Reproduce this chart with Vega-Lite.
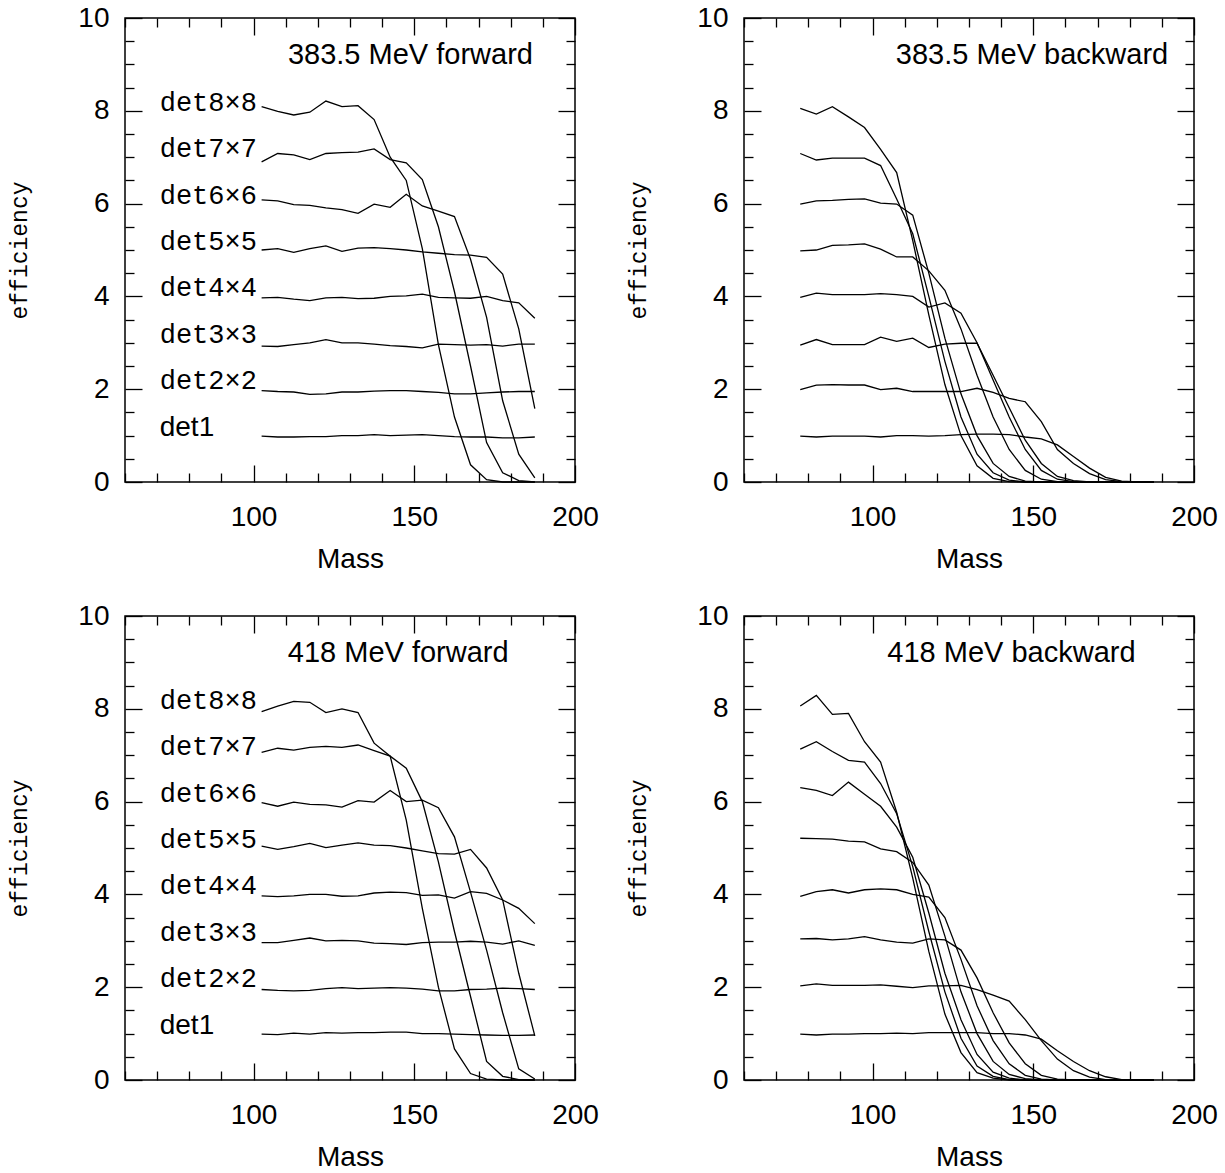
{
  "$schema": "https://vega.github.io/schema/vega-lite/v6.json",
  "background": "white",
  "padding": {"left": 8, "top": 3, "right": 5, "bottom": 2},
  "config": {
    "view": {"stroke": "black", "strokeWidth": 1.5},
    "axis": {"domain": false, "grid": false, "tickColor": "black", "tickWidth": 1.3, "labelFont": "Liberation Sans", "labelFontSize": 28, "labelColor": "black", "labelFlush": false, "labelOverlap": false, "labelBound": false, "titleFont": "Liberation Sans", "titleFontSize": 28, "titleFontWeight": "normal", "titleColor": "black"},
    "text": {"color": "black"}
  },
  "datasets": {
    "f383": [
      {"det":8,"mass":102.5,"eff":8.09},{"det":8,"mass":107.5,"eff":7.99},{"det":8,"mass":112.5,"eff":7.91},{"det":8,"mass":117.5,"eff":7.97},{"det":8,"mass":122.5,"eff":8.21},{"det":8,"mass":127.5,"eff":8.09},{"det":8,"mass":132.5,"eff":8.11},{"det":8,"mass":137.5,"eff":7.81},{"det":8,"mass":142.5,"eff":7.0},{"det":8,"mass":147.5,"eff":6.5},{"det":8,"mass":152.5,"eff":5.03},{"det":8,"mass":157.5,"eff":2.96},{"det":8,"mass":162.5,"eff":1.4},{"det":8,"mass":167.5,"eff":0.37},{"det":8,"mass":172.5,"eff":0.05},{"det":8,"mass":177.5,"eff":0},{"det":8,"mass":182.5,"eff":0},{"det":8,"mass":187.5,"eff":0},
      {"det":7,"mass":102.5,"eff":6.9},{"det":7,"mass":107.5,"eff":7.08},{"det":7,"mass":112.5,"eff":7.05},{"det":7,"mass":117.5,"eff":6.95},{"det":7,"mass":122.5,"eff":7.08},{"det":7,"mass":127.5,"eff":7.1},{"det":7,"mass":132.5,"eff":7.11},{"det":7,"mass":137.5,"eff":7.18},{"det":7,"mass":142.5,"eff":6.95},{"det":7,"mass":147.5,"eff":6.88},{"det":7,"mass":152.5,"eff":6.52},{"det":7,"mass":157.5,"eff":5.5},{"det":7,"mass":162.5,"eff":4.1},{"det":7,"mass":167.5,"eff":2.5},{"det":7,"mass":172.5,"eff":0.85},{"det":7,"mass":177.5,"eff":0.2},{"det":7,"mass":182.5,"eff":0.03},{"det":7,"mass":187.5,"eff":0},
      {"det":6,"mass":102.5,"eff":6.08},{"det":6,"mass":107.5,"eff":6.06},{"det":6,"mass":112.5,"eff":5.98},{"det":6,"mass":117.5,"eff":5.96},{"det":6,"mass":122.5,"eff":5.91},{"det":6,"mass":127.5,"eff":5.87},{"det":6,"mass":132.5,"eff":5.79},{"det":6,"mass":137.5,"eff":5.99},{"det":6,"mass":142.5,"eff":5.92},{"det":6,"mass":147.5,"eff":6.2},{"det":6,"mass":152.5,"eff":5.95},{"det":6,"mass":157.5,"eff":5.84},{"det":6,"mass":162.5,"eff":5.72},{"det":6,"mass":167.5,"eff":4.8},{"det":6,"mass":172.5,"eff":3.55},{"det":6,"mass":177.5,"eff":1.75},{"det":6,"mass":182.5,"eff":0.6},{"det":6,"mass":187.5,"eff":0.09},
      {"det":5,"mass":102.5,"eff":5.0},{"det":5,"mass":107.5,"eff":5.03},{"det":5,"mass":112.5,"eff":4.95},{"det":5,"mass":117.5,"eff":5.03},{"det":5,"mass":122.5,"eff":5.09},{"det":5,"mass":127.5,"eff":4.97},{"det":5,"mass":132.5,"eff":5.04},{"det":5,"mass":137.5,"eff":5.05},{"det":5,"mass":142.5,"eff":5.03},{"det":5,"mass":147.5,"eff":5.0},{"det":5,"mass":152.5,"eff":4.96},{"det":5,"mass":157.5,"eff":4.93},{"det":5,"mass":162.5,"eff":4.9},{"det":5,"mass":167.5,"eff":4.89},{"det":5,"mass":172.5,"eff":4.84},{"det":5,"mass":177.5,"eff":4.48},{"det":5,"mass":182.5,"eff":3.3},{"det":5,"mass":187.5,"eff":1.58},
      {"det":4,"mass":102.5,"eff":3.97},{"det":4,"mass":107.5,"eff":3.98},{"det":4,"mass":112.5,"eff":3.94},{"det":4,"mass":117.5,"eff":3.91},{"det":4,"mass":122.5,"eff":3.97},{"det":4,"mass":127.5,"eff":3.98},{"det":4,"mass":132.5,"eff":3.95},{"det":4,"mass":137.5,"eff":3.96},{"det":4,"mass":142.5,"eff":4.0},{"det":4,"mass":147.5,"eff":4.01},{"det":4,"mass":152.5,"eff":4.05},{"det":4,"mass":157.5,"eff":3.98},{"det":4,"mass":162.5,"eff":3.97},{"det":4,"mass":167.5,"eff":3.96},{"det":4,"mass":172.5,"eff":4.0},{"det":4,"mass":177.5,"eff":3.91},{"det":4,"mass":182.5,"eff":3.86},{"det":4,"mass":187.5,"eff":3.53},
      {"det":3,"mass":102.5,"eff":2.93},{"det":3,"mass":107.5,"eff":2.92},{"det":3,"mass":112.5,"eff":2.96},{"det":3,"mass":117.5,"eff":3.0},{"det":3,"mass":122.5,"eff":3.07},{"det":3,"mass":127.5,"eff":3.0},{"det":3,"mass":132.5,"eff":3.0},{"det":3,"mass":137.5,"eff":2.97},{"det":3,"mass":142.5,"eff":2.94},{"det":3,"mass":147.5,"eff":2.92},{"det":3,"mass":152.5,"eff":2.89},{"det":3,"mass":157.5,"eff":2.97},{"det":3,"mass":162.5,"eff":2.96},{"det":3,"mass":167.5,"eff":2.95},{"det":3,"mass":172.5,"eff":2.96},{"det":3,"mass":177.5,"eff":2.93},{"det":3,"mass":182.5,"eff":2.97},{"det":3,"mass":187.5,"eff":2.97},
      {"det":2,"mass":102.5,"eff":1.97},{"det":2,"mass":107.5,"eff":1.95},{"det":2,"mass":112.5,"eff":1.94},{"det":2,"mass":117.5,"eff":1.89},{"det":2,"mass":122.5,"eff":1.9},{"det":2,"mass":127.5,"eff":1.94},{"det":2,"mass":132.5,"eff":1.94},{"det":2,"mass":137.5,"eff":1.96},{"det":2,"mass":142.5,"eff":1.97},{"det":2,"mass":147.5,"eff":1.97},{"det":2,"mass":152.5,"eff":1.95},{"det":2,"mass":157.5,"eff":1.93},{"det":2,"mass":162.5,"eff":1.9},{"det":2,"mass":167.5,"eff":1.9},{"det":2,"mass":172.5,"eff":1.92},{"det":2,"mass":177.5,"eff":1.94},{"det":2,"mass":182.5,"eff":1.95},{"det":2,"mass":187.5,"eff":1.95},
      {"det":1,"mass":102.5,"eff":0.99},{"det":1,"mass":107.5,"eff":0.97},{"det":1,"mass":112.5,"eff":0.97},{"det":1,"mass":117.5,"eff":0.98},{"det":1,"mass":122.5,"eff":0.98},{"det":1,"mass":127.5,"eff":1.0},{"det":1,"mass":132.5,"eff":1.0},{"det":1,"mass":137.5,"eff":1.02},{"det":1,"mass":142.5,"eff":1.0},{"det":1,"mass":147.5,"eff":1.01},{"det":1,"mass":152.5,"eff":1.02},{"det":1,"mass":157.5,"eff":1.0},{"det":1,"mass":162.5,"eff":0.98},{"det":1,"mass":167.5,"eff":0.97},{"det":1,"mass":172.5,"eff":0.97},{"det":1,"mass":177.5,"eff":0.95},{"det":1,"mass":182.5,"eff":0.95},{"det":1,"mass":187.5,"eff":0.97}
    ],
    "b383": [
      {"det":8,"mass":77.5,"eff":8.05},{"det":8,"mass":82.5,"eff":7.93},{"det":8,"mass":87.5,"eff":8.09},{"det":8,"mass":92.5,"eff":7.87},{"det":8,"mass":97.5,"eff":7.64},{"det":8,"mass":102.5,"eff":7.17},{"det":8,"mass":107.5,"eff":6.67},{"det":8,"mass":112.5,"eff":5.2},{"det":8,"mass":117.5,"eff":3.6},{"det":8,"mass":122.5,"eff":2.1},{"det":8,"mass":127.5,"eff":1.0},{"det":8,"mass":132.5,"eff":0.35},{"det":8,"mass":137.5,"eff":0.08},{"det":8,"mass":142.5,"eff":0.01},{"det":8,"mass":147.5,"eff":0},{"det":8,"mass":152.5,"eff":0},{"det":8,"mass":157.5,"eff":0},{"det":8,"mass":162.5,"eff":0},{"det":8,"mass":167.5,"eff":0},{"det":8,"mass":172.5,"eff":0},{"det":8,"mass":177.5,"eff":0},{"det":8,"mass":182.5,"eff":0},{"det":8,"mass":187.5,"eff":0},
      {"det":7,"mass":77.5,"eff":7.08},{"det":7,"mass":82.5,"eff":6.94},{"det":7,"mass":87.5,"eff":6.98},{"det":7,"mass":92.5,"eff":6.98},{"det":7,"mass":97.5,"eff":6.98},{"det":7,"mass":102.5,"eff":6.82},{"det":7,"mass":107.5,"eff":6.1},{"det":7,"mass":112.5,"eff":5.35},{"det":7,"mass":117.5,"eff":4.0},{"det":7,"mass":122.5,"eff":2.6},{"det":7,"mass":127.5,"eff":1.4},{"det":7,"mass":132.5,"eff":0.6},{"det":7,"mass":137.5,"eff":0.2},{"det":7,"mass":142.5,"eff":0.04},{"det":7,"mass":147.5,"eff":0},{"det":7,"mass":152.5,"eff":0},{"det":7,"mass":157.5,"eff":0},{"det":7,"mass":162.5,"eff":0},{"det":7,"mass":167.5,"eff":0},{"det":7,"mass":172.5,"eff":0},{"det":7,"mass":177.5,"eff":0},{"det":7,"mass":182.5,"eff":0},{"det":7,"mass":187.5,"eff":0},
      {"det":6,"mass":77.5,"eff":5.99},{"det":6,"mass":82.5,"eff":6.06},{"det":6,"mass":87.5,"eff":6.07},{"det":6,"mass":92.5,"eff":6.09},{"det":6,"mass":97.5,"eff":6.1},{"det":6,"mass":102.5,"eff":6.01},{"det":6,"mass":107.5,"eff":5.99},{"det":6,"mass":112.5,"eff":5.75},{"det":6,"mass":117.5,"eff":4.5},{"det":6,"mass":122.5,"eff":3.1},{"det":6,"mass":127.5,"eff":1.9},{"det":6,"mass":132.5,"eff":1.0},{"det":6,"mass":137.5,"eff":0.4},{"det":6,"mass":142.5,"eff":0.12},{"det":6,"mass":147.5,"eff":0.02},{"det":6,"mass":152.5,"eff":0},{"det":6,"mass":157.5,"eff":0},{"det":6,"mass":162.5,"eff":0},{"det":6,"mass":167.5,"eff":0},{"det":6,"mass":172.5,"eff":0},{"det":6,"mass":177.5,"eff":0},{"det":6,"mass":182.5,"eff":0},{"det":6,"mass":187.5,"eff":0},
      {"det":5,"mass":77.5,"eff":4.98},{"det":5,"mass":82.5,"eff":5.0},{"det":5,"mass":87.5,"eff":5.1},{"det":5,"mass":92.5,"eff":5.11},{"det":5,"mass":97.5,"eff":5.13},{"det":5,"mass":102.5,"eff":5.02},{"det":5,"mass":107.5,"eff":4.85},{"det":5,"mass":112.5,"eff":4.85},{"det":5,"mass":117.5,"eff":4.55},{"det":5,"mass":122.5,"eff":4.13},{"det":5,"mass":127.5,"eff":3.3},{"det":5,"mass":132.5,"eff":2.3},{"det":5,"mass":137.5,"eff":1.4},{"det":5,"mass":142.5,"eff":0.7},{"det":5,"mass":147.5,"eff":0.25},{"det":5,"mass":152.5,"eff":0.06},{"det":5,"mass":157.5,"eff":0.01},{"det":5,"mass":162.5,"eff":0},{"det":5,"mass":167.5,"eff":0},{"det":5,"mass":172.5,"eff":0},{"det":5,"mass":177.5,"eff":0},{"det":5,"mass":182.5,"eff":0},{"det":5,"mass":187.5,"eff":0},
      {"det":4,"mass":77.5,"eff":3.98},{"det":4,"mass":82.5,"eff":4.07},{"det":4,"mass":87.5,"eff":4.04},{"det":4,"mass":92.5,"eff":4.04},{"det":4,"mass":97.5,"eff":4.04},{"det":4,"mass":102.5,"eff":4.06},{"det":4,"mass":107.5,"eff":4.04},{"det":4,"mass":112.5,"eff":4.0},{"det":4,"mass":117.5,"eff":3.77},{"det":4,"mass":122.5,"eff":3.86},{"det":4,"mass":127.5,"eff":3.64},{"det":4,"mass":132.5,"eff":3.0},{"det":4,"mass":137.5,"eff":2.2},{"det":4,"mass":142.5,"eff":1.4},{"det":4,"mass":147.5,"eff":0.7},{"det":4,"mass":152.5,"eff":0.25},{"det":4,"mass":157.5,"eff":0.06},{"det":4,"mass":162.5,"eff":0.01},{"det":4,"mass":167.5,"eff":0},{"det":4,"mass":172.5,"eff":0},{"det":4,"mass":177.5,"eff":0},{"det":4,"mass":182.5,"eff":0},{"det":4,"mass":187.5,"eff":0},
      {"det":3,"mass":77.5,"eff":2.95},{"det":3,"mass":82.5,"eff":3.07},{"det":3,"mass":87.5,"eff":2.96},{"det":3,"mass":92.5,"eff":2.96},{"det":3,"mass":97.5,"eff":2.96},{"det":3,"mass":102.5,"eff":3.12},{"det":3,"mass":107.5,"eff":3.03},{"det":3,"mass":112.5,"eff":3.1},{"det":3,"mass":117.5,"eff":2.9},{"det":3,"mass":122.5,"eff":2.97},{"det":3,"mass":127.5,"eff":2.99},{"det":3,"mass":132.5,"eff":2.99},{"det":3,"mass":137.5,"eff":2.3},{"det":3,"mass":142.5,"eff":1.6},{"det":3,"mass":147.5,"eff":0.9},{"det":3,"mass":152.5,"eff":0.4},{"det":3,"mass":157.5,"eff":0.12},{"det":3,"mass":162.5,"eff":0.03},{"det":3,"mass":167.5,"eff":0},{"det":3,"mass":172.5,"eff":0},{"det":3,"mass":177.5,"eff":0},{"det":3,"mass":182.5,"eff":0},{"det":3,"mass":187.5,"eff":0},
      {"det":2,"mass":77.5,"eff":1.99},{"det":2,"mass":82.5,"eff":2.09},{"det":2,"mass":87.5,"eff":2.1},{"det":2,"mass":92.5,"eff":2.09},{"det":2,"mass":97.5,"eff":2.09},{"det":2,"mass":102.5,"eff":1.99},{"det":2,"mass":107.5,"eff":2.02},{"det":2,"mass":112.5,"eff":1.95},{"det":2,"mass":117.5,"eff":1.95},{"det":2,"mass":122.5,"eff":1.95},{"det":2,"mass":127.5,"eff":1.95},{"det":2,"mass":132.5,"eff":2.02},{"det":2,"mass":137.5,"eff":1.93},{"det":2,"mass":142.5,"eff":1.8},{"det":2,"mass":147.5,"eff":1.73},{"det":2,"mass":152.5,"eff":1.3},{"det":2,"mass":157.5,"eff":0.7},{"det":2,"mass":162.5,"eff":0.4},{"det":2,"mass":167.5,"eff":0.18},{"det":2,"mass":172.5,"eff":0.05},{"det":2,"mass":177.5,"eff":0.01},{"det":2,"mass":182.5,"eff":0},{"det":2,"mass":187.5,"eff":0},
      {"det":1,"mass":77.5,"eff":0.99},{"det":1,"mass":82.5,"eff":0.97},{"det":1,"mass":87.5,"eff":0.99},{"det":1,"mass":92.5,"eff":0.99},{"det":1,"mass":97.5,"eff":0.99},{"det":1,"mass":102.5,"eff":0.97},{"det":1,"mass":107.5,"eff":1.0},{"det":1,"mass":112.5,"eff":1.0},{"det":1,"mass":117.5,"eff":0.99},{"det":1,"mass":122.5,"eff":1.0},{"det":1,"mass":127.5,"eff":1.02},{"det":1,"mass":132.5,"eff":1.03},{"det":1,"mass":137.5,"eff":1.03},{"det":1,"mass":142.5,"eff":1.02},{"det":1,"mass":147.5,"eff":0.97},{"det":1,"mass":152.5,"eff":0.93},{"det":1,"mass":157.5,"eff":0.8},{"det":1,"mass":162.5,"eff":0.55},{"det":1,"mass":167.5,"eff":0.3},{"det":1,"mass":172.5,"eff":0.1},{"det":1,"mass":177.5,"eff":0.02},{"det":1,"mass":182.5,"eff":0},{"det":1,"mass":187.5,"eff":0}
    ],
    "f418": [
      {"det":8,"mass":102.5,"eff":7.94},{"det":8,"mass":107.5,"eff":8.06},{"det":8,"mass":112.5,"eff":8.16},{"det":8,"mass":117.5,"eff":8.14},{"det":8,"mass":122.5,"eff":7.92},{"det":8,"mass":127.5,"eff":8.0},{"det":8,"mass":132.5,"eff":7.92},{"det":8,"mass":137.5,"eff":7.26},{"det":8,"mass":142.5,"eff":6.98},{"det":8,"mass":147.5,"eff":5.6},{"det":8,"mass":152.5,"eff":3.7},{"det":8,"mass":157.5,"eff":2.0},{"det":8,"mass":162.5,"eff":0.67},{"det":8,"mass":167.5,"eff":0.14},{"det":8,"mass":172.5,"eff":0.02},{"det":8,"mass":177.5,"eff":0},{"det":8,"mass":182.5,"eff":0},{"det":8,"mass":187.5,"eff":0},
      {"det":7,"mass":102.5,"eff":7.06},{"det":7,"mass":107.5,"eff":7.15},{"det":7,"mass":112.5,"eff":7.11},{"det":7,"mass":117.5,"eff":7.17},{"det":7,"mass":122.5,"eff":7.19},{"det":7,"mass":127.5,"eff":7.17},{"det":7,"mass":132.5,"eff":7.22},{"det":7,"mass":137.5,"eff":7.1},{"det":7,"mass":142.5,"eff":6.98},{"det":7,"mass":147.5,"eff":6.72},{"det":7,"mass":152.5,"eff":6.0},{"det":7,"mass":157.5,"eff":4.7},{"det":7,"mass":162.5,"eff":3.2},{"det":7,"mass":167.5,"eff":1.8},{"det":7,"mass":172.5,"eff":0.4},{"det":7,"mass":177.5,"eff":0.08},{"det":7,"mass":182.5,"eff":0.01},{"det":7,"mass":187.5,"eff":0},
      {"det":6,"mass":102.5,"eff":5.98},{"det":6,"mass":107.5,"eff":5.9},{"det":6,"mass":112.5,"eff":5.99},{"det":6,"mass":117.5,"eff":5.94},{"det":6,"mass":122.5,"eff":5.93},{"det":6,"mass":127.5,"eff":5.88},{"det":6,"mass":132.5,"eff":6.02},{"det":6,"mass":137.5,"eff":5.99},{"det":6,"mass":142.5,"eff":6.24},{"det":6,"mass":147.5,"eff":6.0},{"det":6,"mass":152.5,"eff":6.03},{"det":6,"mass":157.5,"eff":5.87},{"det":6,"mass":162.5,"eff":5.24},{"det":6,"mass":167.5,"eff":4.05},{"det":6,"mass":172.5,"eff":2.8},{"det":6,"mass":177.5,"eff":1.45},{"det":6,"mass":182.5,"eff":0.24},{"det":6,"mass":187.5,"eff":0.02},
      {"det":5,"mass":102.5,"eff":5.04},{"det":5,"mass":107.5,"eff":4.97},{"det":5,"mass":112.5,"eff":5.03},{"det":5,"mass":117.5,"eff":5.1},{"det":5,"mass":122.5,"eff":5.01},{"det":5,"mass":127.5,"eff":5.06},{"det":5,"mass":132.5,"eff":5.11},{"det":5,"mass":137.5,"eff":5.06},{"det":5,"mass":142.5,"eff":5.05},{"det":5,"mass":147.5,"eff":5.0},{"det":5,"mass":152.5,"eff":4.94},{"det":5,"mass":157.5,"eff":4.88},{"det":5,"mass":162.5,"eff":4.87},{"det":5,"mass":167.5,"eff":4.97},{"det":5,"mass":172.5,"eff":4.57},{"det":5,"mass":177.5,"eff":3.88},{"det":5,"mass":182.5,"eff":2.3},{"det":5,"mass":187.5,"eff":0.95},
      {"det":4,"mass":102.5,"eff":3.97},{"det":4,"mass":107.5,"eff":3.95},{"det":4,"mass":112.5,"eff":3.97},{"det":4,"mass":117.5,"eff":4.0},{"det":4,"mass":122.5,"eff":4.0},{"det":4,"mass":127.5,"eff":3.96},{"det":4,"mass":132.5,"eff":3.97},{"det":4,"mass":137.5,"eff":4.03},{"det":4,"mass":142.5,"eff":4.05},{"det":4,"mass":147.5,"eff":4.04},{"det":4,"mass":152.5,"eff":3.98},{"det":4,"mass":157.5,"eff":3.99},{"det":4,"mass":162.5,"eff":3.92},{"det":4,"mass":167.5,"eff":4.06},{"det":4,"mass":172.5,"eff":4.02},{"det":4,"mass":177.5,"eff":3.88},{"det":4,"mass":182.5,"eff":3.7},{"det":4,"mass":187.5,"eff":3.37},
      {"det":3,"mass":102.5,"eff":2.96},{"det":3,"mass":107.5,"eff":2.96},{"det":3,"mass":112.5,"eff":3.01},{"det":3,"mass":117.5,"eff":3.06},{"det":3,"mass":122.5,"eff":3.0},{"det":3,"mass":127.5,"eff":3.01},{"det":3,"mass":132.5,"eff":3.0},{"det":3,"mass":137.5,"eff":2.95},{"det":3,"mass":142.5,"eff":2.94},{"det":3,"mass":147.5,"eff":2.92},{"det":3,"mass":152.5,"eff":2.96},{"det":3,"mass":157.5,"eff":2.97},{"det":3,"mass":162.5,"eff":2.97},{"det":3,"mass":167.5,"eff":2.99},{"det":3,"mass":172.5,"eff":2.97},{"det":3,"mass":177.5,"eff":2.93},{"det":3,"mass":182.5,"eff":3.0},{"det":3,"mass":187.5,"eff":2.9},
      {"det":2,"mass":102.5,"eff":1.95},{"det":2,"mass":107.5,"eff":1.93},{"det":2,"mass":112.5,"eff":1.92},{"det":2,"mass":117.5,"eff":1.93},{"det":2,"mass":122.5,"eff":1.97},{"det":2,"mass":127.5,"eff":1.99},{"det":2,"mass":132.5,"eff":1.97},{"det":2,"mass":137.5,"eff":1.98},{"det":2,"mass":142.5,"eff":1.99},{"det":2,"mass":147.5,"eff":1.98},{"det":2,"mass":152.5,"eff":1.96},{"det":2,"mass":157.5,"eff":1.92},{"det":2,"mass":162.5,"eff":1.92},{"det":2,"mass":167.5,"eff":1.95},{"det":2,"mass":172.5,"eff":1.96},{"det":2,"mass":177.5,"eff":1.98},{"det":2,"mass":182.5,"eff":1.97},{"det":2,"mass":187.5,"eff":1.95},
      {"det":1,"mass":102.5,"eff":0.99},{"det":1,"mass":107.5,"eff":0.98},{"det":1,"mass":112.5,"eff":1.01},{"det":1,"mass":117.5,"eff":0.99},{"det":1,"mass":122.5,"eff":1.02},{"det":1,"mass":127.5,"eff":1.01},{"det":1,"mass":132.5,"eff":1.02},{"det":1,"mass":137.5,"eff":1.02},{"det":1,"mass":142.5,"eff":1.03},{"det":1,"mass":147.5,"eff":1.03},{"det":1,"mass":152.5,"eff":1.0},{"det":1,"mass":157.5,"eff":1.0},{"det":1,"mass":162.5,"eff":0.99},{"det":1,"mass":167.5,"eff":0.98},{"det":1,"mass":172.5,"eff":0.97},{"det":1,"mass":177.5,"eff":0.96},{"det":1,"mass":182.5,"eff":0.96},{"det":1,"mass":187.5,"eff":0.97}
    ],
    "b418": [
      {"det":8,"mass":77.5,"eff":8.06},{"det":8,"mass":82.5,"eff":8.29},{"det":8,"mass":87.5,"eff":7.88},{"det":8,"mass":92.5,"eff":7.9},{"det":8,"mass":97.5,"eff":7.29},{"det":8,"mass":102.5,"eff":6.85},{"det":8,"mass":107.5,"eff":5.77},{"det":8,"mass":112.5,"eff":4.35},{"det":8,"mass":117.5,"eff":2.77},{"det":8,"mass":122.5,"eff":1.42},{"det":8,"mass":127.5,"eff":0.59},{"det":8,"mass":132.5,"eff":0.16},{"det":8,"mass":137.5,"eff":0.04},{"det":8,"mass":142.5,"eff":0},{"det":8,"mass":147.5,"eff":0},{"det":8,"mass":152.5,"eff":0},{"det":8,"mass":157.5,"eff":0},{"det":8,"mass":162.5,"eff":0},{"det":8,"mass":167.5,"eff":0},{"det":8,"mass":172.5,"eff":0},{"det":8,"mass":177.5,"eff":0},{"det":8,"mass":182.5,"eff":0},{"det":8,"mass":187.5,"eff":0},
      {"det":7,"mass":77.5,"eff":7.13},{"det":7,"mass":82.5,"eff":7.29},{"det":7,"mass":87.5,"eff":7.08},{"det":7,"mass":92.5,"eff":6.89},{"det":7,"mass":97.5,"eff":6.85},{"det":7,"mass":102.5,"eff":6.39},{"det":7,"mass":107.5,"eff":5.74},{"det":7,"mass":112.5,"eff":4.6},{"det":7,"mass":117.5,"eff":3.2},{"det":7,"mass":122.5,"eff":1.9},{"det":7,"mass":127.5,"eff":0.9},{"det":7,"mass":132.5,"eff":0.3},{"det":7,"mass":137.5,"eff":0.08},{"det":7,"mass":142.5,"eff":0.01},{"det":7,"mass":147.5,"eff":0},{"det":7,"mass":152.5,"eff":0},{"det":7,"mass":157.5,"eff":0},{"det":7,"mass":162.5,"eff":0},{"det":7,"mass":167.5,"eff":0},{"det":7,"mass":172.5,"eff":0},{"det":7,"mass":177.5,"eff":0},{"det":7,"mass":182.5,"eff":0},{"det":7,"mass":187.5,"eff":0},
      {"det":6,"mass":77.5,"eff":6.3},{"det":6,"mass":82.5,"eff":6.24},{"det":6,"mass":87.5,"eff":6.13},{"det":6,"mass":92.5,"eff":6.42},{"det":6,"mass":97.5,"eff":6.16},{"det":6,"mass":102.5,"eff":5.9},{"det":6,"mass":107.5,"eff":5.45},{"det":6,"mass":112.5,"eff":4.8},{"det":6,"mass":117.5,"eff":3.6},{"det":6,"mass":122.5,"eff":2.3},{"det":6,"mass":127.5,"eff":1.3},{"det":6,"mass":132.5,"eff":0.55},{"det":6,"mass":137.5,"eff":0.17},{"det":6,"mass":142.5,"eff":0.04},{"det":6,"mass":147.5,"eff":0},{"det":6,"mass":152.5,"eff":0},{"det":6,"mass":157.5,"eff":0},{"det":6,"mass":162.5,"eff":0},{"det":6,"mass":167.5,"eff":0},{"det":6,"mass":172.5,"eff":0},{"det":6,"mass":177.5,"eff":0},{"det":6,"mass":182.5,"eff":0},{"det":6,"mass":187.5,"eff":0},
      {"det":5,"mass":77.5,"eff":5.21},{"det":5,"mass":82.5,"eff":5.2},{"det":5,"mass":87.5,"eff":5.19},{"det":5,"mass":92.5,"eff":5.15},{"det":5,"mass":97.5,"eff":5.13},{"det":5,"mass":102.5,"eff":4.98},{"det":5,"mass":107.5,"eff":4.92},{"det":5,"mass":112.5,"eff":4.69},{"det":5,"mass":117.5,"eff":4.2},{"det":5,"mass":122.5,"eff":3.1},{"det":5,"mass":127.5,"eff":1.9},{"det":5,"mass":132.5,"eff":1.0},{"det":5,"mass":137.5,"eff":0.4},{"det":5,"mass":142.5,"eff":0.12},{"det":5,"mass":147.5,"eff":0.03},{"det":5,"mass":152.5,"eff":0},{"det":5,"mass":157.5,"eff":0},{"det":5,"mass":162.5,"eff":0},{"det":5,"mass":167.5,"eff":0},{"det":5,"mass":172.5,"eff":0},{"det":5,"mass":177.5,"eff":0},{"det":5,"mass":182.5,"eff":0},{"det":5,"mass":187.5,"eff":0},
      {"det":4,"mass":77.5,"eff":3.96},{"det":4,"mass":82.5,"eff":4.06},{"det":4,"mass":87.5,"eff":4.1},{"det":4,"mass":92.5,"eff":4.03},{"det":4,"mass":97.5,"eff":4.1},{"det":4,"mass":102.5,"eff":4.12},{"det":4,"mass":107.5,"eff":4.1},{"det":4,"mass":112.5,"eff":4.0},{"det":4,"mass":117.5,"eff":3.94},{"det":4,"mass":122.5,"eff":3.5},{"det":4,"mass":127.5,"eff":2.6},{"det":4,"mass":132.5,"eff":1.6},{"det":4,"mass":137.5,"eff":0.85},{"det":4,"mass":142.5,"eff":0.35},{"det":4,"mass":147.5,"eff":0.1},{"det":4,"mass":152.5,"eff":0.02},{"det":4,"mass":157.5,"eff":0},{"det":4,"mass":162.5,"eff":0},{"det":4,"mass":167.5,"eff":0},{"det":4,"mass":172.5,"eff":0},{"det":4,"mass":177.5,"eff":0},{"det":4,"mass":182.5,"eff":0},{"det":4,"mass":187.5,"eff":0},
      {"det":3,"mass":77.5,"eff":3.04},{"det":3,"mass":82.5,"eff":3.05},{"det":3,"mass":87.5,"eff":3.02},{"det":3,"mass":92.5,"eff":3.04},{"det":3,"mass":97.5,"eff":3.09},{"det":3,"mass":102.5,"eff":3.02},{"det":3,"mass":107.5,"eff":2.97},{"det":3,"mass":112.5,"eff":2.95},{"det":3,"mass":117.5,"eff":3.04},{"det":3,"mass":122.5,"eff":3.02},{"det":3,"mass":127.5,"eff":2.8},{"det":3,"mass":132.5,"eff":2.2},{"det":3,"mass":137.5,"eff":1.45},{"det":3,"mass":142.5,"eff":0.8},{"det":3,"mass":147.5,"eff":0.35},{"det":3,"mass":152.5,"eff":0.1},{"det":3,"mass":157.5,"eff":0.02},{"det":3,"mass":162.5,"eff":0},{"det":3,"mass":167.5,"eff":0},{"det":3,"mass":172.5,"eff":0},{"det":3,"mass":177.5,"eff":0},{"det":3,"mass":182.5,"eff":0},{"det":3,"mass":187.5,"eff":0},
      {"det":2,"mass":77.5,"eff":2.03},{"det":2,"mass":82.5,"eff":2.07},{"det":2,"mass":87.5,"eff":2.04},{"det":2,"mass":92.5,"eff":2.04},{"det":2,"mass":97.5,"eff":2.04},{"det":2,"mass":102.5,"eff":2.05},{"det":2,"mass":107.5,"eff":2.02},{"det":2,"mass":112.5,"eff":1.99},{"det":2,"mass":117.5,"eff":2.03},{"det":2,"mass":122.5,"eff":2.03},{"det":2,"mass":127.5,"eff":2.04},{"det":2,"mass":132.5,"eff":1.95},{"det":2,"mass":137.5,"eff":1.83},{"det":2,"mass":142.5,"eff":1.7},{"det":2,"mass":147.5,"eff":1.3},{"det":2,"mass":152.5,"eff":0.85},{"det":2,"mass":157.5,"eff":0.45},{"det":2,"mass":162.5,"eff":0.2},{"det":2,"mass":167.5,"eff":0.06},{"det":2,"mass":172.5,"eff":0.01},{"det":2,"mass":177.5,"eff":0},{"det":2,"mass":182.5,"eff":0},{"det":2,"mass":187.5,"eff":0},
      {"det":1,"mass":77.5,"eff":0.99},{"det":1,"mass":82.5,"eff":0.97},{"det":1,"mass":87.5,"eff":0.99},{"det":1,"mass":92.5,"eff":0.99},{"det":1,"mass":97.5,"eff":1.0},{"det":1,"mass":102.5,"eff":1.0},{"det":1,"mass":107.5,"eff":1.01},{"det":1,"mass":112.5,"eff":1.0},{"det":1,"mass":117.5,"eff":1.02},{"det":1,"mass":122.5,"eff":1.02},{"det":1,"mass":127.5,"eff":1.02},{"det":1,"mass":132.5,"eff":1.02},{"det":1,"mass":137.5,"eff":1.0},{"det":1,"mass":142.5,"eff":1.0},{"det":1,"mass":147.5,"eff":0.97},{"det":1,"mass":152.5,"eff":0.88},{"det":1,"mass":157.5,"eff":0.63},{"det":1,"mass":162.5,"eff":0.4},{"det":1,"mass":167.5,"eff":0.2},{"det":1,"mass":172.5,"eff":0.07},{"det":1,"mass":177.5,"eff":0.01},{"det":1,"mass":182.5,"eff":0},{"det":1,"mass":187.5,"eff":0}
    ],
    "labels": [
      {"label":"det8×8","mass":70.8,"eff":8},{"label":"det7×7","mass":70.8,"eff":7},{"label":"det6×6","mass":70.8,"eff":6},{"label":"det5×5","mass":70.8,"eff":5},{"label":"det4×4","mass":70.8,"eff":4},{"label":"det3×3","mass":70.8,"eff":3},{"label":"det2×2","mass":70.8,"eff":2}
    ],
    "label1": [{"label":"det1","mass":70.8,"eff":1}]
  },
  "bounds": "flush",
  "spacing": {"row": 134, "column": 169},
  "columns": 2,
  "concat": [
    {
      "width": 450, "height": 464,
      "layer": [
        {"data": {"name": "f383"}, "mark": {"type": "line", "color": "black", "strokeWidth": 1.3},
         "encoding": {
           "x": {"field": "mass", "type": "quantitative", "scale": {"domain": [60, 200], "nice": false, "zero": false},
                 "axis": {"orient": "bottom", "values": [60,70,80,90,100,110,120,130,140,150,160,170,180,190,200], "tickSize": {"condition": {"test": "datum.value % 50 === 0", "value": -17}, "value": -9}, "labelExpr": "datum.value % 50 === 0 && datum.value > 60 ? format(datum.value, 'd') : ''", "labelPadding": 38, "title": "Mass", "titlePadding": 6}},
           "y": {"field": "eff", "type": "quantitative", "scale": {"domain": [0, 10], "nice": false},
                 "axis": {"orient": "left", "values": [0,0.5,1,1.5,2,2.5,3,3.5,4,4.5,5,5.5,6,6.5,7,7.5,8,8.5,9,9.5,10], "tickSize": {"condition": {"test": "datum.value % 2 === 0", "value": -17}, "value": -9}, "labelExpr": "datum.value % 2 === 0 ? format(datum.value, 'd') : ''", "labelPadding": 33, "title": "efficiency", "titleFont": "Liberation Mono", "titleFontSize": 23, "titlePadding": 46}},
           "detail": {"field": "det", "type": "nominal"}
         }},
        {"data": {"values": [{"title": "383.5 MeV forward", "mass": 148.8, "eff": 9}]}, "mark": {"type": "text", "font": "Liberation Sans", "fontSize": 29, "align": "center", "baseline": "alphabetic"},
         "encoding": {
           "x": {"field": "mass", "type": "quantitative", "axis": {"orient": "top", "values": [60,70,80,90,100,110,120,130,140,150,160,170,180,190,200], "tickSize": {"condition": {"test": "datum.value % 50 === 0", "value": -17}, "value": -9}, "labels": false, "title": null}},
           "y": {"field": "eff", "type": "quantitative", "axis": {"orient": "right", "values": [0,0.5,1,1.5,2,2.5,3,3.5,4,4.5,5,5.5,6,6.5,7,7.5,8,8.5,9,9.5,10], "tickSize": {"condition": {"test": "datum.value % 2 === 0", "value": -17}, "value": -9}, "labels": false, "title": null}},
           "text": {"field": "title"}
         }},
        {"data": {"name": "labels"}, "mark": {"type": "text", "font": "Liberation Mono", "fontSize": 27, "align": "left", "baseline": "alphabetic"},
         "encoding": {"x": {"field": "mass", "type": "quantitative", "axis": null}, "y": {"field": "eff", "type": "quantitative", "axis": null}, "text": {"field": "label"}}},
        {"data": {"name": "label1"}, "mark": {"type": "text", "font": "Liberation Sans", "fontSize": 28, "align": "left", "baseline": "alphabetic"},
         "encoding": {"x": {"field": "mass", "type": "quantitative", "axis": null}, "y": {"field": "eff", "type": "quantitative", "axis": null}, "text": {"field": "label"}}}
      ],
      "resolve": {"axis": {"x": "independent", "y": "independent"}}
    },
    {
      "width": 450, "height": 464,
      "layer": [
        {"data": {"name": "b383"}, "mark": {"type": "line", "color": "black", "strokeWidth": 1.3},
         "encoding": {
           "x": {"field": "mass", "type": "quantitative", "scale": {"domain": [60, 200], "nice": false, "zero": false},
                 "axis": {"orient": "bottom", "values": [60,70,80,90,100,110,120,130,140,150,160,170,180,190,200], "tickSize": {"condition": {"test": "datum.value % 50 === 0", "value": -17}, "value": -9}, "labelExpr": "datum.value % 50 === 0 && datum.value > 60 ? format(datum.value, 'd') : ''", "labelPadding": 38, "title": "Mass", "titlePadding": 6}},
           "y": {"field": "eff", "type": "quantitative", "scale": {"domain": [0, 10], "nice": false},
                 "axis": {"orient": "left", "values": [0,0.5,1,1.5,2,2.5,3,3.5,4,4.5,5,5.5,6,6.5,7,7.5,8,8.5,9,9.5,10], "tickSize": {"condition": {"test": "datum.value % 2 === 0", "value": -17}, "value": -9}, "labelExpr": "datum.value % 2 === 0 ? format(datum.value, 'd') : ''", "labelPadding": 33, "title": "efficiency", "titleFont": "Liberation Mono", "titleFontSize": 23, "titlePadding": 46}},
           "detail": {"field": "det", "type": "nominal"}
         }},
        {"data": {"values": [{"title": "383.5 MeV backward", "mass": 149.6, "eff": 9}]}, "mark": {"type": "text", "font": "Liberation Sans", "fontSize": 29, "align": "center", "baseline": "alphabetic"},
         "encoding": {
           "x": {"field": "mass", "type": "quantitative", "axis": {"orient": "top", "values": [60,70,80,90,100,110,120,130,140,150,160,170,180,190,200], "tickSize": {"condition": {"test": "datum.value % 50 === 0", "value": -17}, "value": -9}, "labels": false, "title": null}},
           "y": {"field": "eff", "type": "quantitative", "axis": {"orient": "right", "values": [0,0.5,1,1.5,2,2.5,3,3.5,4,4.5,5,5.5,6,6.5,7,7.5,8,8.5,9,9.5,10], "tickSize": {"condition": {"test": "datum.value % 2 === 0", "value": -17}, "value": -9}, "labels": false, "title": null}},
           "text": {"field": "title"}
         }}
      ],
      "resolve": {"axis": {"x": "independent", "y": "independent"}}
    },
    {
      "width": 450, "height": 464,
      "layer": [
        {"data": {"name": "f418"}, "mark": {"type": "line", "color": "black", "strokeWidth": 1.3},
         "encoding": {
           "x": {"field": "mass", "type": "quantitative", "scale": {"domain": [60, 200], "nice": false, "zero": false},
                 "axis": {"orient": "bottom", "values": [60,70,80,90,100,110,120,130,140,150,160,170,180,190,200], "tickSize": {"condition": {"test": "datum.value % 50 === 0", "value": -17}, "value": -9}, "labelExpr": "datum.value % 50 === 0 && datum.value > 60 ? format(datum.value, 'd') : ''", "labelPadding": 38, "title": "Mass", "titlePadding": 6}},
           "y": {"field": "eff", "type": "quantitative", "scale": {"domain": [0, 10], "nice": false},
                 "axis": {"orient": "left", "values": [0,0.5,1,1.5,2,2.5,3,3.5,4,4.5,5,5.5,6,6.5,7,7.5,8,8.5,9,9.5,10], "tickSize": {"condition": {"test": "datum.value % 2 === 0", "value": -17}, "value": -9}, "labelExpr": "datum.value % 2 === 0 ? format(datum.value, 'd') : ''", "labelPadding": 33, "title": "efficiency", "titleFont": "Liberation Mono", "titleFontSize": 23, "titlePadding": 46}},
           "detail": {"field": "det", "type": "nominal"}
         }},
        {"data": {"values": [{"title": "418 MeV forward", "mass": 145.0, "eff": 9}]}, "mark": {"type": "text", "font": "Liberation Sans", "fontSize": 29, "align": "center", "baseline": "alphabetic"},
         "encoding": {
           "x": {"field": "mass", "type": "quantitative", "axis": {"orient": "top", "values": [60,70,80,90,100,110,120,130,140,150,160,170,180,190,200], "tickSize": {"condition": {"test": "datum.value % 50 === 0", "value": -17}, "value": -9}, "labels": false, "title": null}},
           "y": {"field": "eff", "type": "quantitative", "axis": {"orient": "right", "values": [0,0.5,1,1.5,2,2.5,3,3.5,4,4.5,5,5.5,6,6.5,7,7.5,8,8.5,9,9.5,10], "tickSize": {"condition": {"test": "datum.value % 2 === 0", "value": -17}, "value": -9}, "labels": false, "title": null}},
           "text": {"field": "title"}
         }},
        {"data": {"name": "labels"}, "mark": {"type": "text", "font": "Liberation Mono", "fontSize": 27, "align": "left", "baseline": "alphabetic"},
         "encoding": {"x": {"field": "mass", "type": "quantitative", "axis": null}, "y": {"field": "eff", "type": "quantitative", "axis": null}, "text": {"field": "label"}}},
        {"data": {"name": "label1"}, "mark": {"type": "text", "font": "Liberation Sans", "fontSize": 28, "align": "left", "baseline": "alphabetic"},
         "encoding": {"x": {"field": "mass", "type": "quantitative", "axis": null}, "y": {"field": "eff", "type": "quantitative", "axis": null}, "text": {"field": "label"}}}
      ],
      "resolve": {"axis": {"x": "independent", "y": "independent"}}
    },
    {
      "width": 450, "height": 464,
      "layer": [
        {"data": {"name": "b418"}, "mark": {"type": "line", "color": "black", "strokeWidth": 1.3},
         "encoding": {
           "x": {"field": "mass", "type": "quantitative", "scale": {"domain": [60, 200], "nice": false, "zero": false},
                 "axis": {"orient": "bottom", "values": [60,70,80,90,100,110,120,130,140,150,160,170,180,190,200], "tickSize": {"condition": {"test": "datum.value % 50 === 0", "value": -17}, "value": -9}, "labelExpr": "datum.value % 50 === 0 && datum.value > 60 ? format(datum.value, 'd') : ''", "labelPadding": 38, "title": "Mass", "titlePadding": 6}},
           "y": {"field": "eff", "type": "quantitative", "scale": {"domain": [0, 10], "nice": false},
                 "axis": {"orient": "left", "values": [0,0.5,1,1.5,2,2.5,3,3.5,4,4.5,5,5.5,6,6.5,7,7.5,8,8.5,9,9.5,10], "tickSize": {"condition": {"test": "datum.value % 2 === 0", "value": -17}, "value": -9}, "labelExpr": "datum.value % 2 === 0 ? format(datum.value, 'd') : ''", "labelPadding": 33, "title": "efficiency", "titleFont": "Liberation Mono", "titleFontSize": 23, "titlePadding": 46}},
           "detail": {"field": "det", "type": "nominal"}
         }},
        {"data": {"values": [{"title": "418 MeV backward", "mass": 143.2, "eff": 9}]}, "mark": {"type": "text", "font": "Liberation Sans", "fontSize": 29, "align": "center", "baseline": "alphabetic"},
         "encoding": {
           "x": {"field": "mass", "type": "quantitative", "axis": {"orient": "top", "values": [60,70,80,90,100,110,120,130,140,150,160,170,180,190,200], "tickSize": {"condition": {"test": "datum.value % 50 === 0", "value": -17}, "value": -9}, "labels": false, "title": null}},
           "y": {"field": "eff", "type": "quantitative", "axis": {"orient": "right", "values": [0,0.5,1,1.5,2,2.5,3,3.5,4,4.5,5,5.5,6,6.5,7,7.5,8,8.5,9,9.5,10], "tickSize": {"condition": {"test": "datum.value % 2 === 0", "value": -17}, "value": -9}, "labels": false, "title": null}},
           "text": {"field": "title"}
         }}
      ],
      "resolve": {"axis": {"x": "independent", "y": "independent"}}
    }
  ]
}
